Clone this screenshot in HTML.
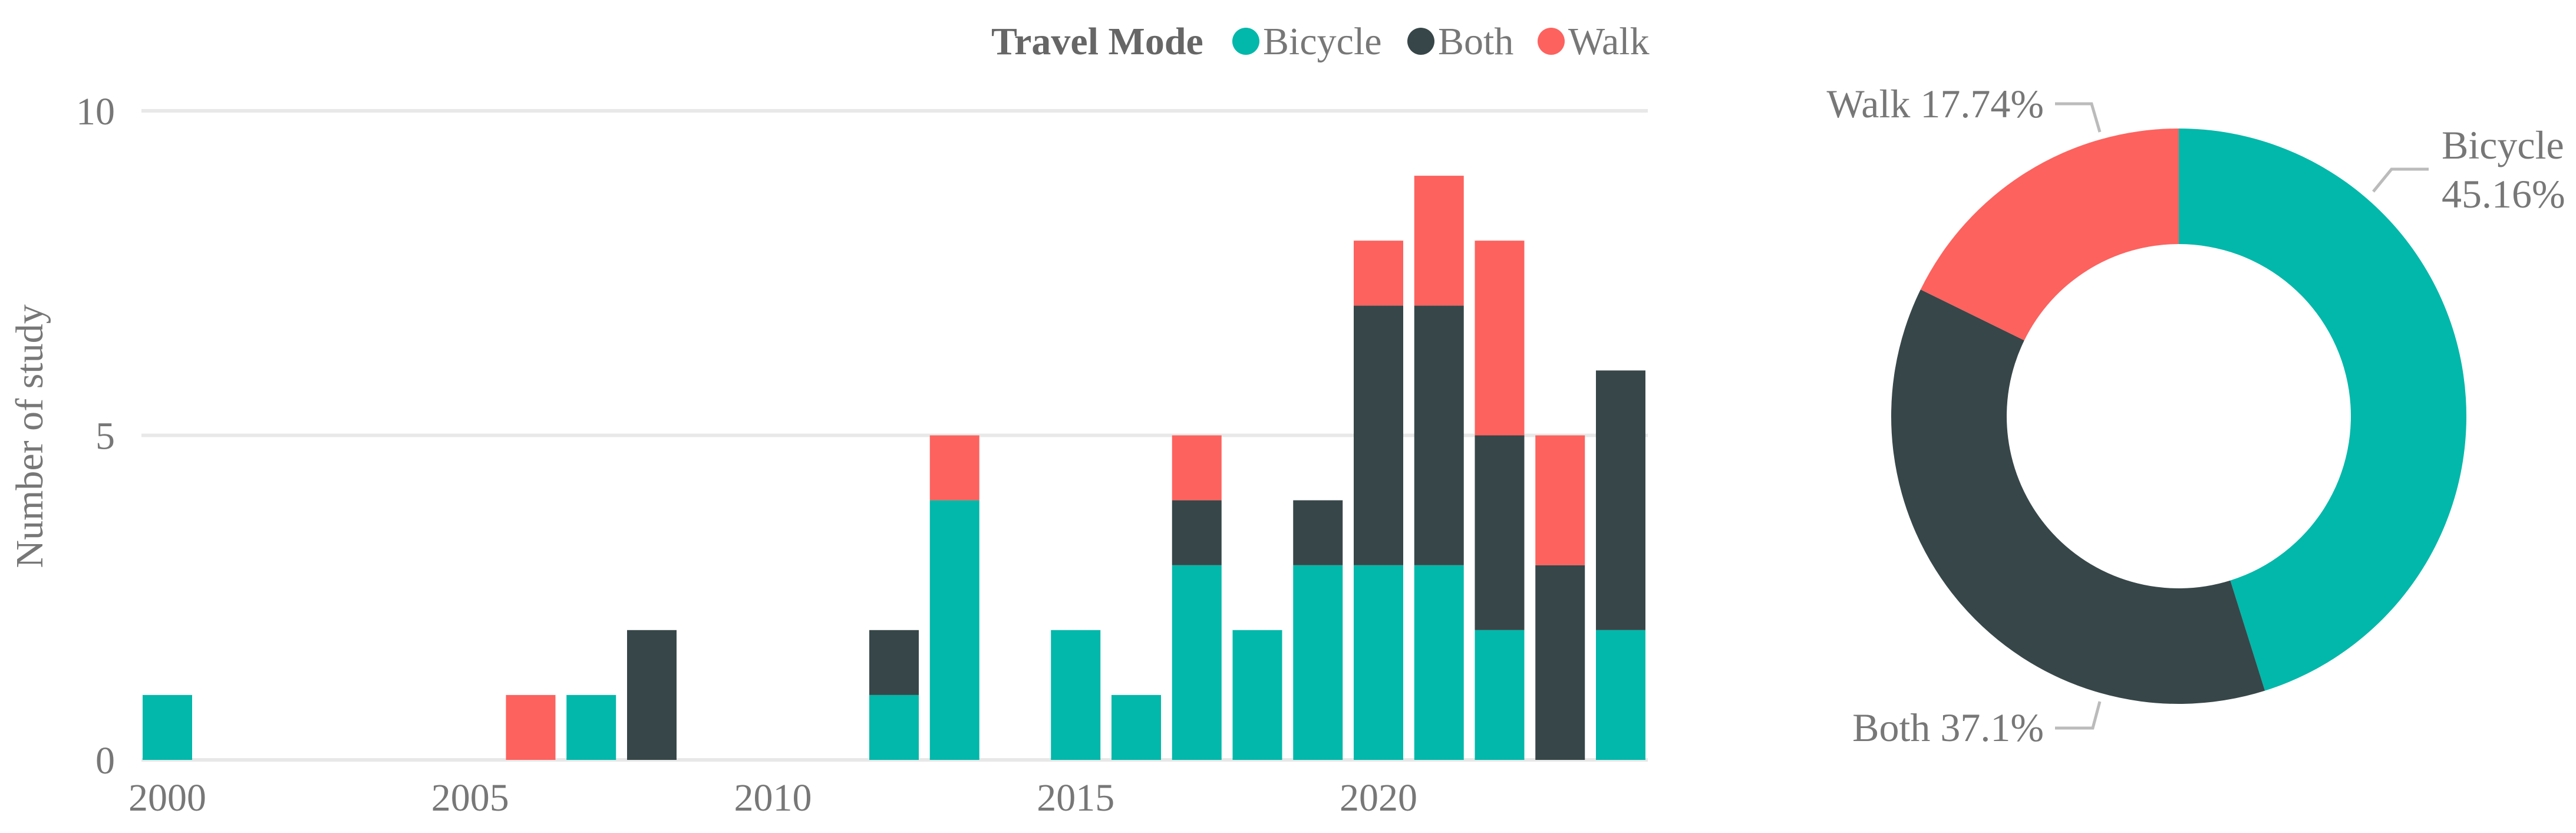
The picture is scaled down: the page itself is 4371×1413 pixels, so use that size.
<!DOCTYPE html>
<html><head><meta charset="utf-8"><style>
html,body{margin:0;padding:0;background:#fff;}
svg, svg text{font-family:"Liberation Serif","Times New Roman","DejaVu Serif",serif;}
</style></head><body>
<svg id="chart" width="4371" height="1408" viewBox="0 0 4371 1408" xmlns="http://www.w3.org/2000/svg" font-family="Liberation Serif, DejaVu Serif, serif">
<g id="legend" font-size="66" fill="#777">
  <text x="1682" y="92" font-weight="bold" fill="#666">Travel Mode</text>
  <g><ellipse cx="2114" cy="70" rx="23" ry="23" fill="#01B8AA"/><text x="2143" y="92">Bicycle</text></g>
  <g><ellipse cx="2411" cy="70" rx="23" ry="23" fill="#374649"/><text x="2440" y="92">Both</text></g>
  <g><ellipse cx="2632" cy="70" rx="23" ry="23" fill="#FD625E"/><text x="2661" y="92">Walk</text></g>
</g>
<g id="grid"></g>
<g id="bars"></g>
<g id="xaxis" font-size="66" fill="#777" text-anchor="middle"></g>
<g id="yaxis" font-size="66" fill="#777" text-anchor="end"></g>
<text transform="translate(72,740) rotate(-90)" text-anchor="middle" font-size="66" fill="#777">Number of study</text>
<g id="donut"></g>
<g font-size="68" fill="#777">
  <text x="3468" y="199" text-anchor="end">Walk 17.74%</text>
  <text x="4143" y="269">Bicycle</text>
  <text x="4143" y="352">45.16%</text>
  <text x="3468" y="1257" text-anchor="end">Both 37.1%</text>
  <polyline points="3487,176 3549,176 3563,224" fill="none" stroke="#bbb" stroke-width="5"/>
  <polyline points="4121,287 4058,287 4027,325" fill="none" stroke="#bbb" stroke-width="5"/>
  <polyline points="3487,1235 3551,1235 3563,1190" fill="none" stroke="#bbb" stroke-width="5"/>
</g>
</svg>
<script>
const years = [2000,2001,2002,2003,2004,2005,2006,2007,2008,2009,2010,2011,2012,2013,2014,2015,2016,2017,2018,2019,2020,2021,2022,2023,2024];
const bicycle = [1,0,0,0,0,0,0,1,0,0,0,0,1,4,0,2,1,3,2,3,3,3,2,0,2];
const both    = [0,0,0,0,0,0,0,0,2,0,0,0,1,0,0,0,0,1,0,1,4,4,3,3,4];
const walk    = [0,0,0,0,0,0,1,0,0,0,0,0,0,1,0,0,0,1,0,0,1,2,3,2,0];
const yTicks = [0,5,10];
const xTicks = [2000,2005,2010,2015,2020];
const pieLabels = ["Bicycle","Both","Walk"];
const pieColors = ["#01B8AA","#374649","#FD625E"];

const NS="http://www.w3.org/2000/svg";
const x0=284, step=102.75, bw=84, y0=1289, unit=110.1, left=240, right=2796;
const xs = y => x0 + (y - years[0]) * step;
const ys = v => y0 - v * unit;
function mk(tag, attrs, parent){const e=document.createElementNS(NS,tag);for(const k in attrs)e.setAttribute(k,attrs[k]);parent.appendChild(e);return e;}

const grid=document.getElementById('grid'), yax=document.getElementById('yaxis'), xax=document.getElementById('xaxis'), bars=document.getElementById('bars');
yTicks.forEach(t=>{
  const l=mk('line',{x1:left,x2:right,y1:ys(t),y2:ys(t),stroke:'#e8e8e8','stroke-width':6},grid);
  
  
  const tx=mk('text',{x:195,y:ys(t)+23},yax); tx.textContent=t;
  
  
});
xTicks.forEach(t=>{
  const tx=mk('text',{x:xs(t),y:1375},xax); tx.textContent=t;
  
  
});
const series=[[bicycle,'#01B8AA','bicycle'],[both,'#374649','both'],[walk,'#FD625E','walk']];
years.forEach((yr,i)=>{
  let acc=0;
  series.forEach(([arr,col,nm])=>{
    const v=arr[i]; if(!v) return;
    const r=mk('rect',{x:xs(yr)-bw/2,y:ys(acc+v),width:bw,height:v*unit,fill:col},bars);
    
    
    acc+=v;
  });
});

const tot=[bicycle,both,walk].map(a=>a.reduce((s,v)=>s+v,0));
const sum=tot.reduce((s,v)=>s+v,0);
const cx=3697, cy=706, R=488, r=292;
const donut=document.getElementById('donut');
let a0=0;
tot.forEach((v,i)=>{
  const a1=a0+v/sum*2*Math.PI;
  const p=(a,rad)=>[cx+rad*Math.sin(a), cy-rad*Math.cos(a)];
  const [ox0,oy0]=p(a0,R),[ox1,oy1]=p(a1,R),[ix1,iy1]=p(a1,r),[ix0,iy0]=p(a0,r);
  const lg=(a1-a0)>Math.PI?1:0;
  const d=`M${ox0},${oy0} A${R},${R} 0 ${lg} 1 ${ox1},${oy1} L${ix1},${iy1} A${r},${r} 0 ${lg} 0 ${ix0},${iy0} Z`;
  const s=mk('path',{d:d,fill:pieColors[i]},donut);
  
  
  a0=a1;
});
</script>
</body></html>
